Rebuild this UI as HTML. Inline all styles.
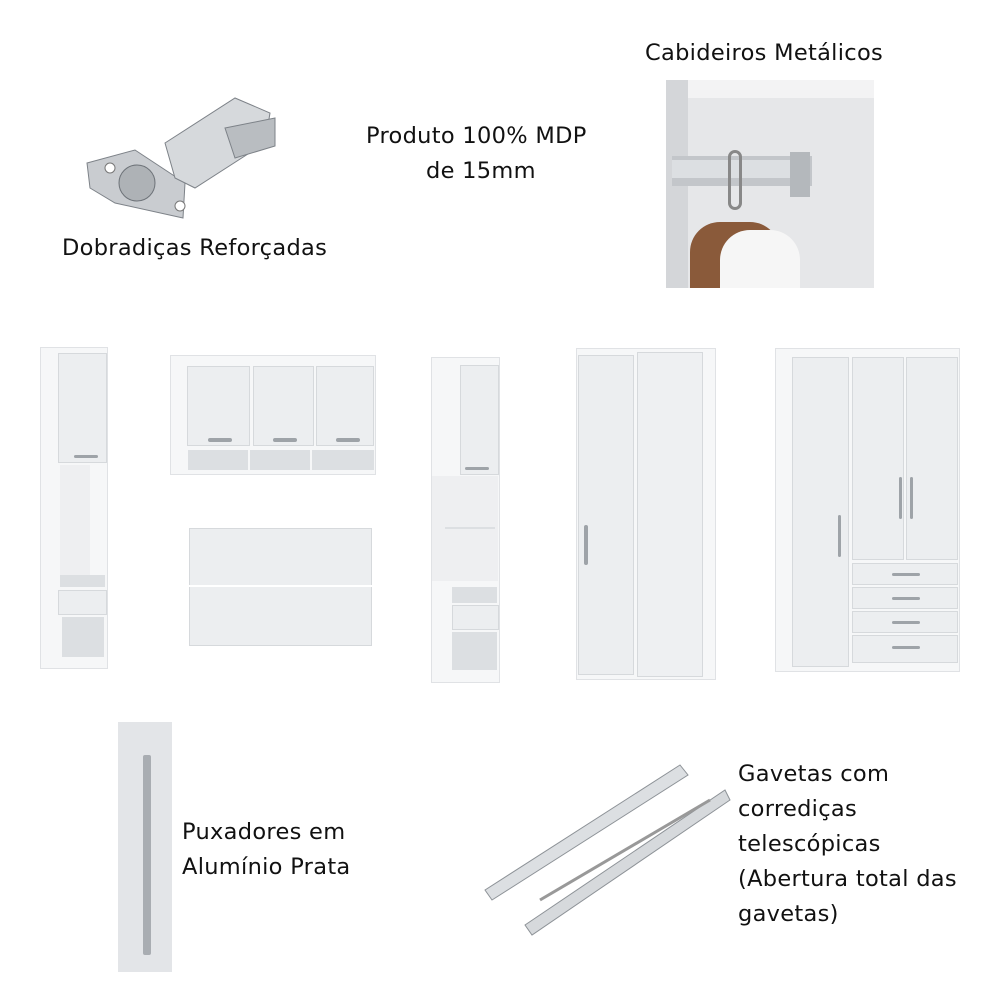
<!DOCTYPE html>
<html><head><meta charset="utf-8"><style>
body{margin:0;width:1000px;height:1000px;background:#fff;position:relative;overflow:hidden;font-family:"DejaVu Sans","Liberation Sans",sans-serif;color:#111}
.a{position:absolute;box-sizing:border-box}
.t{position:absolute;font-size:22.5px;line-height:35px;white-space:nowrap;letter-spacing:0.3px}
.w{background:#f6f7f8;border:1px solid #e0e2e5}
.d{background:#eceef0;border:1px solid #d6d9dc}
.o{background:#dcdfe2}
.h{background:#9ea3a8;border-radius:2px}
</style></head><body>
<svg class="a" style="left:75px;top:88px" width="210" height="140">
<polygon points="12,75 60,62 110,95 108,130 40,115 15,100" fill="#c9ccd0" stroke="#7d8288"/>
<polygon points="90,55 160,10 195,25 190,55 120,100 100,90" fill="#d6d9dc" stroke="#7d8288"/>
<polygon points="150,40 200,30 200,58 160,70" fill="#b9bdc1" stroke="#7d8288"/>
<circle cx="62" cy="95" r="18" fill="#aeb2b6" stroke="#6d7278"/>
<circle cx="35" cy="80" r="5" fill="#fff" stroke="#777"/><circle cx="105" cy="118" r="5" fill="#fff" stroke="#777"/>
</svg>
<div class="t" style="left:62px;top:231px">Dobradiças Reforçadas</div>
<div class="t" style="left:366px;top:119px">Produto 100% MDP</div>
<div class="t" style="left:426px;top:154px">de 15mm</div>
<div class="t" style="left:645px;top:36px">Cabideiros Metálicos</div>
<div class="a" style="left:666px;top:80px;width:208px;height:208px;background:#e6e7e9"></div>
<div class="a" style="left:666px;top:80px;width:208px;height:18px;background:#f3f3f4"></div>
<div class="a" style="left:666px;top:80px;width:22px;height:208px;background:#d4d6d9"></div>
<div class="a" style="left:672px;top:156px;width:140px;height:30px;background:#c3c6ca"></div>
<div class="a" style="left:672px;top:160px;width:135px;height:18px;background:#dcdfe2"></div>
<div class="a" style="left:790px;top:152px;width:20px;height:45px;background:#b4b8bc"></div>
<div class="a" style="left:728px;top:150px;width:14px;height:60px;border:3px solid #888;border-radius:8px"></div>
<div class="a" style="left:690px;top:222px;width:90px;height:66px;background:#8a5a3a;border-radius:30px 30px 0 0"></div>
<div class="a" style="left:720px;top:230px;width:80px;height:58px;background:#f6f6f6;border-radius:30px 30px 0 0"></div>
<div class="a w" style="left:40px;top:347px;width:68px;height:322px"></div>
<div class="a d" style="left:58px;top:353px;width:49px;height:110px"></div>
<div class="a h" style="left:74px;top:455px;width:24px;height:3px"></div>
<div class="a" style="left:60px;top:465px;width:30px;height:110px;background:#eeeff1"></div>
<div class="a o" style="left:60px;top:575px;width:45px;height:12px"></div>
<div class="a d" style="left:58px;top:590px;width:49px;height:25px"></div>
<div class="a o" style="left:62px;top:617px;width:42px;height:40px"></div>
<div class="a w" style="left:170px;top:355px;width:206px;height:120px"></div>
<div class="a d" style="left:187px;top:366px;width:63px;height:80px"></div>
<div class="a d" style="left:253px;top:366px;width:61px;height:80px"></div>
<div class="a d" style="left:316px;top:366px;width:58px;height:80px"></div>
<div class="a h" style="left:208px;top:438px;width:24px;height:4px"></div>
<div class="a h" style="left:273px;top:438px;width:24px;height:4px"></div>
<div class="a h" style="left:336px;top:438px;width:24px;height:4px"></div>
<div class="a o" style="left:188px;top:450px;width:60px;height:20px"></div>
<div class="a o" style="left:250px;top:450px;width:60px;height:20px"></div>
<div class="a o" style="left:312px;top:450px;width:62px;height:20px"></div>
<div class="a d" style="left:189px;top:528px;width:183px;height:118px;background:#eceef0"></div>
<div class="a" style="left:189px;top:585px;width:183px;height:2px;background:#fff"></div>
<div class="a w" style="left:431px;top:357px;width:69px;height:326px"></div>
<div class="a d" style="left:460px;top:365px;width:39px;height:110px"></div>
<div class="a h" style="left:465px;top:467px;width:24px;height:3px"></div>
<div class="a" style="left:432px;top:476px;width:66px;height:105px;background:#eeeff1"></div>
<div class="a o" style="left:445px;top:527px;width:50px;height:2px"></div>
<div class="a o" style="left:452px;top:587px;width:45px;height:16px"></div>
<div class="a d" style="left:452px;top:605px;width:47px;height:25px"></div>
<div class="a o" style="left:452px;top:632px;width:45px;height:38px"></div>
<div class="a w" style="left:576px;top:348px;width:140px;height:332px"></div>
<div class="a d" style="left:578px;top:355px;width:56px;height:320px"></div>
<div class="a d" style="left:637px;top:352px;width:66px;height:325px;background:#eef0f2"></div>
<div class="a h" style="left:584px;top:525px;width:4px;height:40px"></div>
<div class="a w" style="left:775px;top:348px;width:185px;height:324px"></div>
<div class="a d" style="left:792px;top:357px;width:57px;height:310px"></div>
<div class="a d" style="left:852px;top:357px;width:52px;height:203px"></div>
<div class="a d" style="left:906px;top:357px;width:52px;height:203px"></div>
<div class="a h" style="left:838px;top:515px;width:3px;height:42px"></div>
<div class="a h" style="left:899px;top:477px;width:3px;height:42px"></div>
<div class="a h" style="left:910px;top:477px;width:3px;height:42px"></div>
<div class="a d" style="left:852px;top:563px;width:106px;height:22px"></div>
<div class="a d" style="left:852px;top:587px;width:106px;height:22px"></div>
<div class="a d" style="left:852px;top:611px;width:106px;height:22px"></div>
<div class="a d" style="left:852px;top:635px;width:106px;height:28px"></div>
<div class="a h" style="left:892px;top:573px;width:28px;height:3px"></div>
<div class="a h" style="left:892px;top:597px;width:28px;height:3px"></div>
<div class="a h" style="left:892px;top:621px;width:28px;height:3px"></div>
<div class="a h" style="left:892px;top:646px;width:28px;height:3px"></div>
<div class="a" style="left:118px;top:722px;width:54px;height:250px;background:#e3e5e8"></div>
<div class="a" style="left:143px;top:755px;width:8px;height:200px;background:#a9adb2;border-radius:2px"></div>
<div class="t" style="left:182px;top:815px">Puxadores em</div>
<div class="t" style="left:182px;top:850px">Alumínio Prata</div>
<svg class="a" style="left:480px;top:740px" width="260" height="200">
<polygon points="5,150 200,25 208,35 12,160" fill="#dcdfe2" stroke="#8d9297"/>
<polygon points="45,185 245,50 250,60 52,195" fill="#d6d9dc" stroke="#8d9297"/>
<line x1="60" y1="160" x2="230" y2="60" stroke="#999" stroke-width="3"/>
</svg>
<div class="t" style="left:738px;top:757px">Gavetas com</div>
<div class="t" style="left:738px;top:792px">corrediças</div>
<div class="t" style="left:738px;top:827px">telescópicas</div>
<div class="t" style="left:738px;top:862px">(Abertura total das</div>
<div class="t" style="left:738px;top:897px">gavetas)</div>
</body></html>
